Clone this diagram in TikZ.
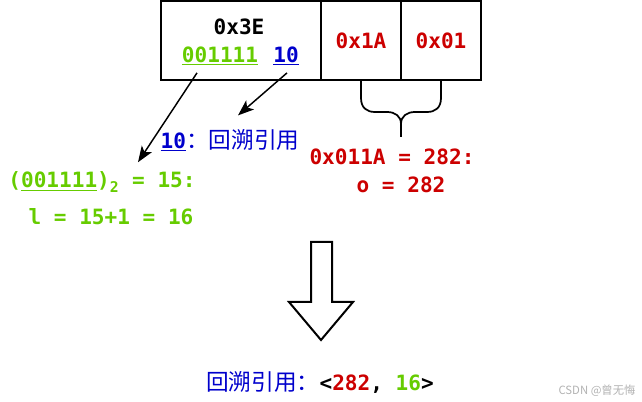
\documentclass[tikz,border=0pt]{standalone}
\usepackage{fontspec}
\setmonofont{DejaVu Sans Mono}
\newfontfamily\cjk{Noto Sans CJK SC}
\usepackage{xcolor}
\usepackage{tikz}
\usetikzlibrary{arrows.meta,positioning,calc}
\definecolor{lenGreen}{RGB}{102,204,0}
\definecolor{offRed}{RGB}{204,0,0}
\definecolor{refBlue}{RGB}{0,0,204}

\begin{document}
\begin{tikzpicture}[x=0.75pt,y=-0.75pt,
  cell/.style={draw,line width=1.5pt,outer sep=0pt,minimum height=59.25pt,inner sep=0pt},
  code/.style={inner sep=1pt,font=\fontsize{15.8}{19}\selectfont\ttfamily\bfseries},
  arrow/.style={-{Stealth[length=12pt,width=9pt,inset=3pt]},line width=1.1pt}
]
\useasboundingbox (0,0) rectangle (642,402);
% token bytes
\node[cell,minimum width=120pt] (tok) at (241,40.5) {};
\node[cell,minimum width=60pt,right=0pt of tok,text=offRed,code] (lo) {0x1A};
\node[cell,minimum width=60pt,right=0pt of lo,text=offRed,code] (hi) {0x01};
\node[code] (tokval) at (239,27) {0x3E};
\node[code,text=lenGreen] (lenbits) at (220,56) {\underline{001111}};
\node[code,text=refBlue] (refbits) at (286,56) {\underline{10}};
% brace under the offset bytes
\draw[line width=1.3pt] (lo.south) -- ++(0,18) .. controls +(0,10) and +(-8,0) .. ++(14,14) -- ++(12,0) .. controls +(8,0) and +(0,-8) .. ++(14,12) coordinate (tip) -- ++(0,13);
\draw[line width=1.3pt] (hi.south) -- ++(0,18) .. controls +(0,10) and +(8,0) .. ++(-14,14) -- ++(-12,0) .. controls +(-8,0) and +(0,-8) .. (tip);
% explanations
\node[code,text=refBlue] (refnote) at (230,140) {\underline{10}{\cjk\mdseries\fontsize{17}{20}\selectfont ：回溯引用}};
\node[code,text=offRed] (offcalc) at (392,157) {0x011A = 282:};
\node[code,text=offRed] (offval) at (401,185) {o = 282};
\node[code,text=lenGreen] (lencalc) at (102,182) {(\underline{001111})\textsubscript{2} = 15:};
\node[code,text=lenGreen] (lenval) at (111,217) {l = 15+1 = 16};
\draw[arrow] ([shift={(-23,6)}]lenbits.south) -- ([shift={(36,-8)}]lencalc.north);
\draw[arrow] ([shift={(1,6)}]refbits.south) -- ([shift={(8,-12)}]refnote.north);
% hollow arrow
\draw[line width=1.5pt,line join=miter] (311,242) -- (332,242) -- (332,302) -- (353,302) -- (321,340) -- (289,302) -- (311,302) -- cycle;
% result
\node[code] (result) at (320,382) {{\cjk\mdseries\fontsize{17}{20}\selectfont\color{refBlue}回溯引用：}<\textcolor{offRed}{282}, \textcolor{lenGreen}{16}>};
\node[inner sep=0pt,text=black!30,font=\cjk\fontsize{8.5}{10}\selectfont] (mark) at (597,391) {CSDN @曾无悔};
\end{tikzpicture}
\end{document}
